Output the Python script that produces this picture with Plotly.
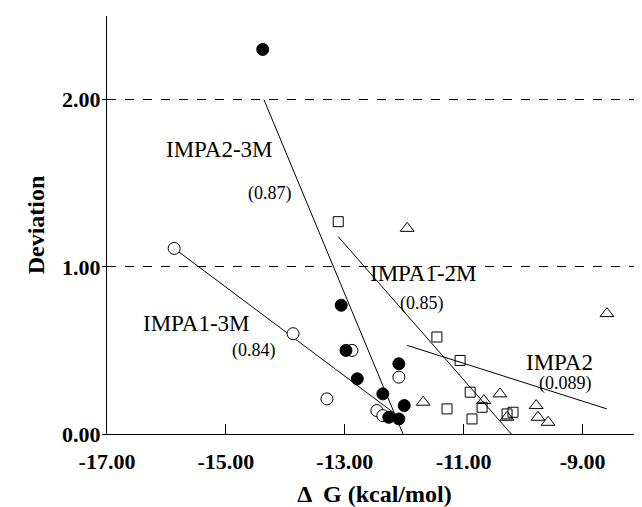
import plotly.graph_objects as go

# IMPA2-3M (filled circles)
impa23_x = [-14.38, -13.06, -12.98, -12.79, -12.36, -12.09, -12.00, -12.26, -12.09]
impa23_y = [2.30, 0.77, 0.50, 0.33, 0.24, 0.42, 0.17, 0.10, 0.09]
# IMPA1-3M (open circles)
impa13_x = [-15.87, -13.87, -13.30, -12.88, -12.09, -12.46, -12.36]
impa13_y = [1.11, 0.60, 0.21, 0.50, 0.34, 0.14, 0.11]
# IMPA1-2M (open squares)
impa12_x = [-13.11, -11.45, -11.06, -10.89, -11.28, -10.86, -10.69, -10.27, -10.17]
impa12_y = [1.27, 0.58, 0.44, 0.25, 0.15, 0.09, 0.16, 0.12, 0.13]
# IMPA2 (open triangles)
impa2_x = [-11.95, -8.59, -11.68, -10.66, -10.39, -10.27, -9.78, -9.75, -9.58]
impa2_y = [1.23, 0.72, 0.19, 0.20, 0.24, 0.10, 0.17, 0.10, 0.07]

# fitted lines (endpoints)
fit23_x = [-14.36, -12.02]; fit23_y = [2.00, 0.00]
fit13_x = [-15.87, -12.15]; fit13_y = [1.11, 0.12]
fit12_x = [-13.11, -10.20]; fit12_y = [1.18, 0.00]
fit2_x = [-11.95, -8.59];   fit2_y = [0.53, 0.15]

# labels
label_text = ["IMPA2-3M", "(0.87)", "IMPA1-3M", "(0.84)", "IMPA1-2M", "(0.85)", "IMPA2", "(0.089)"]
label_x = [-15.10, -14.26, -15.50, -14.53, -11.67, -11.70, -9.38, -9.28]
label_y = [1.70, 1.44, 0.66, 0.50, 0.96, 0.78, 0.43, 0.30]
label_size = [23, 18, 23, 18, 23, 18, 23, 18]

x_ticks = [-17, -15, -13, -11, -9]
x_ticktext = ["-17.00", "-15.00", "-13.00", "-11.00", "-9.00"]
y_ticks = [0, 1, 2]
y_ticktext = ["0.00", "1.00", "2.00"]

FONT = "Liberation Serif, Times New Roman, serif"

fig = go.Figure()
for fx, fy in [(fit23_x, fit23_y), (fit13_x, fit13_y), (fit12_x, fit12_y), (fit2_x, fit2_y)]:
    fig.add_trace(go.Scatter(x=fx, y=fy, mode="lines", line=dict(color="black", width=1),
                             showlegend=False, hoverinfo="skip"))

fig.add_trace(go.Scatter(x=impa13_x, y=impa13_y, mode="markers", name="IMPA1-3M",
                         marker=dict(symbol="circle", size=12, color="white",
                                     line=dict(color="black", width=1))))
fig.add_trace(go.Scatter(x=impa12_x, y=impa12_y, mode="markers", name="IMPA1-2M",
                         marker=dict(symbol="square-open", size=10, color="black",
                                     line=dict(color="black", width=1))))
fig.add_trace(go.Scatter(x=impa2_x, y=impa2_y, mode="markers", name="IMPA2",
                         marker=dict(symbol="triangle-up-open", size=12, color="black",
                                     line=dict(color="black", width=1))))
fig.add_trace(go.Scatter(x=impa23_x, y=impa23_y, mode="markers", name="IMPA2-3M",
                         marker=dict(symbol="circle", size=12, color="black",
                                     line=dict(color="black", width=1))))

for t, x, y, s in zip(label_text, label_x, label_y, label_size):
    fig.add_annotation(x=x, y=y, text=t, showarrow=False, xref="x", yref="y",
                       font=dict(family=FONT, size=s, color="black"))

# page body has an 8px margin, so the figure is sized to fit the 642x507 window
fig.update_layout(
    width=634, height=499,
    margin=dict(l=99, r=0, t=8, b=73),
    paper_bgcolor="white", plot_bgcolor="white",
    showlegend=False,
    font=dict(family=FONT, color="black"),
)
fig.update_xaxes(
    range=[-17, -8], showline=True, linecolor="black", linewidth=1,
    showgrid=False, zeroline=False, automargin=False,
    tickmode="array", tickvals=x_ticks, ticktext=x_ticktext,
    ticks="inside", ticklen=10, tickcolor="black", tickwidth=1,
    ticklabelstandoff=8,
    tickfont=dict(family=FONT, size=22, color="black", weight="bold"),
    title=dict(text="Δ  G (kcal/mol)", font=dict(family=FONT, size=24, color="black", weight="bold"), standoff=21),
)
fig.update_yaxes(
    range=[0, 2.5], showline=True, linecolor="black", linewidth=1,
    showgrid=True, gridcolor="black", gridwidth=1, griddash="dash", zeroline=False,
    automargin=False,
    tickmode="array", tickvals=y_ticks, ticktext=y_ticktext,
    ticks="outside", ticklen=4, tickcolor="black", tickwidth=1,
    ticklabelstandoff=-3,
    tickfont=dict(family=FONT, size=22, color="black", weight="bold"),
    title=dict(text="Deviation", font=dict(family=FONT, size=24, color="black", weight="bold"), standoff=10),
)

fig.write_html("out.html")
